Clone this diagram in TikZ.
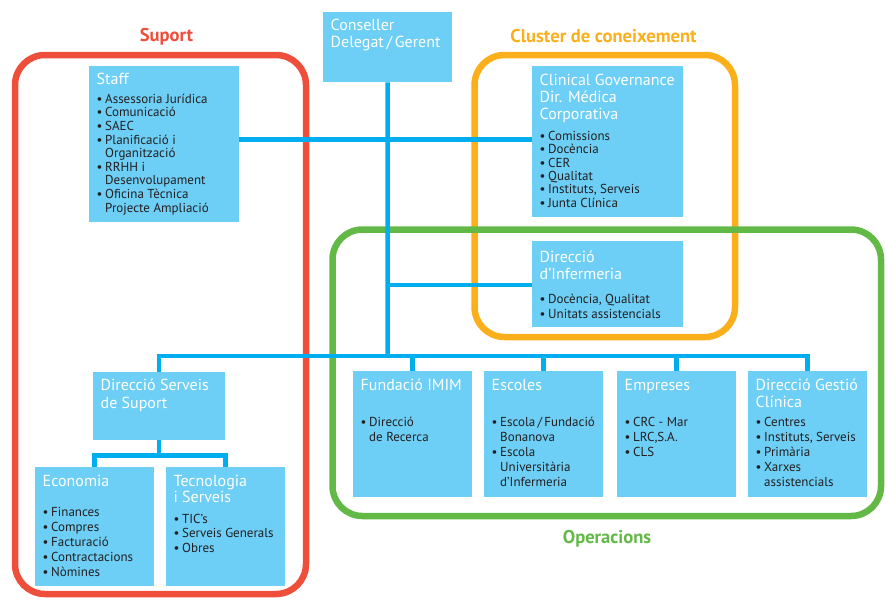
\documentclass[tikz,border=0pt]{standalone}
\usepackage{fontspec}
\setmainfont{PT Sans}
\usetikzlibrary{calc}

\definecolor{boxblue}{HTML}{6DCFF6}
\definecolor{linkblue}{HTML}{00AEEF}
\definecolor{suportred}{HTML}{EF4E3A}
\definecolor{clusterorange}{HTML}{FBAF1B}
\definecolor{opgreen}{HTML}{63B946}
\definecolor{ink}{HTML}{231F20}

\pgfdeclarelayer{frames}
\pgfdeclarelayer{links}
\pgfsetlayers{frames,links,main}

% box body: width, height, contents (top aligned, left padded)
\newcommand{\boxbody}[3]{\parbox[c][#2pt][t]{#1pt}{\raggedright\leftskip=7.5pt\relax#3}}
% white heading: first baseline offset, leading, text
\newcommand{\heading}[3]{{\color{white}\fontsize{16}{#2pt}\selectfont\rule{0pt}{#1pt}#3\par}}
% bullet list: gap above, leading, items
\newcommand{\bullets}[3]{\vspace{#1pt}{\color{ink}\fontsize{13}{#2pt}\selectfont#3\par}}
\newcommand{\itm}{\par\noindent\hangindent=8.5pt\hangafter=1\makebox[8.5pt][l]{\textbullet}\ignorespaces}

\tikzset{
  orgbox/.style={rectangle, fill=boxblue, inner sep=0pt, anchor=north west},
  link/.style={draw=linkblue, line width=4.5pt},
  groupframe/.style={line width=6.5pt, rounded corners=30pt},
  grouplabel/.style={font=\bfseries\fontsize{18.5}{20}\selectfont, anchor=base, inner sep=0pt}
}

\begin{document}
\begin{tikzpicture}[x=1pt, y=-1pt]
\useasboundingbox (0,0) rectangle (885,600);

% ---- boxes ----
\node[orgbox] (conseller) at (323,12) {\boxbody{129}{70}{%
  \heading{18}{17}{Conseller\break Delegat\,/\,Gerent}}};

\node[orgbox] (staff) at (89,66) {\boxbody{150}{156}{%
  \heading{18}{17}{Staff}%
  \bullets{5.4}{13.6}{\itm Assessoria Jurídica\itm Comunicació\itm SAEC%
    \itm Planificació i\break Organització\itm RRHH i\break Desenvolupament%
    \itm Oficina Tècnica\break Projecte Ampliació}}};

\node[orgbox] (clinical) at (532,66) {\boxbody{151}{151}{%
  \heading{19}{17}{Clinical Governance\break Dir. Médica\break Corporativa}%
  \bullets{7.6}{13.4}{\itm Comissions\itm Docència\itm CER\itm Qualitat%
    \itm Instituts, Serveis\itm Junta Clínica}}};

\node[orgbox] (infermeria) at (532,241) {\boxbody{151}{86}{%
  \heading{21}{17}{Direcció\break d’Infermeria}%
  \bullets{9}{15}{\itm Docència, Qualitat\itm Unitats assistencials}}};

\node[orgbox] (dss) at (93,372) {\boxbody{132}{68}{%
  \heading{18}{18}{Direcció Serveis\break de Suport}}};

\node[orgbox] (economia) at (35,467) {\boxbody{119}{119}{%
  \heading{19}{17}{Economia}%
  \bullets{15}{15}{\itm Finances\itm Compres\itm Facturació\itm Contractacions\itm Nòmines}}};

\node[orgbox] (tecnologia) at (166,467) {\boxbody{119}{119}{%
  \heading{19}{16}{Tecnologia\break i Serveis}%
  \bullets{6.5}{14.5}{\itm TIC’s\itm Serveis Generals\itm Obres}}};

\node[orgbox] (imim) at (353,371) {\boxbody{119}{126}{%
  \heading{19}{17}{Fundació IMIM}%
  \bullets{21}{15}{\itm Direcció\break de Recerca}}};

\node[orgbox] (escoles) at (484,371) {\boxbody{119}{126}{%
  \heading{19}{17}{Escoles}%
  \bullets{21}{15}{\itm Escola\,/\,Fundació\break Bonanova\itm Escola\break Universitària\break d’Infermeria}}};

\node[orgbox] (empreses) at (617,371) {\boxbody{119}{126}{%
  \heading{19}{17}{Empreses}%
  \bullets{21}{15}{\itm CRC - Mar\itm LRC,S.A.\itm CLS}}};

\node[orgbox] (dgc) at (748,371) {\boxbody{119}{126}{%
  \heading{19}{17}{Direcció Gestió\break Clínica}%
  \bullets{4}{15}{\itm Centres\itm Instituts, Serveis\itm Primària\itm Xarxes\break assistencials}}};

% ---- group labels ----
\node[grouplabel, text=suportred] (suportlbl) at (166.5,41) {Suport};
\node[grouplabel, text=clusterorange] (clusterlbl) at (603.5,42.5) {Cluster de coneixement};
\node[grouplabel, text=opgreen] (oplbl) at (607,543) {Operacions};

% ---- group frames ----
\begin{pgfonlayer}{frames}
  \draw[groupframe, draw=clusterorange] (474.5,55) rectangle (735,337);
  \draw[groupframe, draw=opgreen] (332.5,229.5) rectangle (881,516);
  \draw[groupframe, draw=suportred] (15,55) rectangle (306,594);
\end{pgfonlayer}

% ---- connectors ----
\begin{pgfonlayer}{links}
  \coordinate (hub1) at (387.5,139.5);
  \coordinate (hub2) at (387.5,285);
  \coordinate (bus) at (387.5,356);
  \coordinate (split) at ($(dss.south)+(0,15)$);
  \draw[link] (conseller.south) -- (bus);
  \draw[link] (staff.east |- hub1) -- (clinical.west |- hub1);
  \draw[link] (hub2) -- (infermeria.west |- hub2);
  \draw[link] (dss.north) |- (bus) -| (dgc.north);
  \foreach \n in {imim,escoles,empreses}
    \draw[link] (\n.north) -- (\n.north |- bus);
  \draw[link] (dss.south) -- (split);
  \draw[link] (economia.north) |- (split) -| (tecnologia.north);
\end{pgfonlayer}
\end{tikzpicture}
\end{document}
